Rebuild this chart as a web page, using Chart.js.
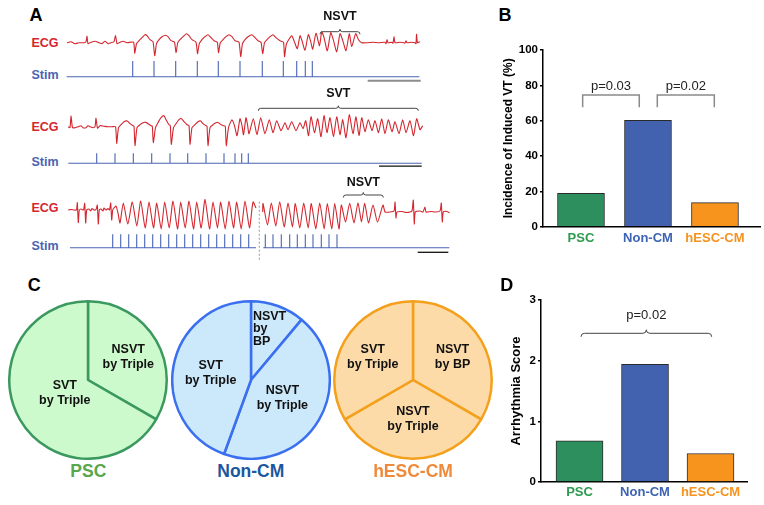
<!DOCTYPE html>
<html>
<head>
<meta charset="utf-8">
<script src="https://cdn.jsdelivr.net/npm/chart.js@4.4.1/dist/chart.umd.min.js"></script>
<style>
  html, body { margin: 0; padding: 0; background: #fff; }
  #fig { position: relative; width: 764px; height: 505px; overflow: hidden; font-family: "Liberation Sans", Arial, sans-serif; }
  #fig canvas { position: absolute; }
  .lbl { position: absolute; font-weight: bold; white-space: nowrap; line-height: 1; transform: translate(-50%, -50%); }
</style>
</head>
<body>
<div id="fig"></div>
<script>
// ---- panel A: ECG traces, [time, offset] (time in samples from trace start)
const ecg1 = [
  [0,0],[4,1],[8,-1],[12,0],[17,0],[19,1],[20,6.5],[21,-1],[23,0],[28,1.5],[32,0],[35,-1],[38,1.5],[41,-1],[44,0],[47,1],[48.5,7],[50,-1],[52,0],[56,1.5],[60,0],[66.5,0.5],
  [67.7,-10.5],[69.5,-1],[72,2],[75,5],[78,8],[80,7],[83,3],[86,1],
  [87.7,-13],[89.5,-1],[92,3],[95,6],[98.5,7.5],[101,6],[104,2],[107.5,0.5],
  [109,-10],[110.8,0],[113,3],[116,6],[119.5,9],[122,7],[125,3],[129,0.5],
  [130.5,-11],[132.3,-1],[135,3],[138,6],[141,8],[144,5],[147,2],[150.3,0.5],
  [151.5,-10],[153.3,0],[156,3],[159,6],[162,8],[165,6],[168,2],[172,0.5],
  [173.7,-14],[175.5,-1],[178,3],[181,6],[185,8],[188,5],[191,2],[194,0.5],
  [195.7,-11],[197.5,0],[200,3],[203,6],[206,8],[209,5],[213,2],[216.5,0.5],
  [217.5,-14],[219.5,-1],[224.7,7],[227,2],[230.3,-6],[233,7],[235,2],[238,-7.5],[241.3,8],[243.5,2],[245.7,-6.5],[249,9.5],[252.5,-3],
  [254.7,11],[257,5],[260.3,-8],[263.7,10],[266,4],[269.7,-9],[273,9],[275.5,3],[279,-8],[282.3,9],[284.7,-4],[288.7,9],[291.5,3],[294.7,0],
  [300,0],[306,0.5],[312,0],[318,0.5],[319,-1],[320,3],[321,0],[325,0.5],[326,-0.5],[327,6],[328,0],[333,0.5],[337,0],[338,-0.5],[339,2],[340,0],[344,0.5],[348,0],[349,-1],[349.5,8.5],[350.5,0],[353,1]
];
const ecg2 = [
  [0,1],[2,0],[3,12],[4.5,0],[7,0],[10,1],[13,2],[15,0],[18,0],[20,2],[22,1],[25,0],[27,1],[28,9.5],[29.5,-0.5],[32,2],[36,1.5],[40,1],[44,1],[47.5,1],
  [48.7,-15.7],[50.5,0],[53,3],[56,6],[59.3,6.7],[62,4],[65,2],[66,1.5],
  [67,-18],[69,0],[72,3],[75,5],[77.7,5.3],[80,4],[83,2],[84.3,1.5],
  [85.3,-15],[87.5,0],[90,5],[93,10],[96,12],[98,8],[101,3],[102.3,2],
  [103.3,-16.7],[105.5,0],[108,4],[111,8],[113.3,9.3],[116,6],[119,3],[121,2],
  [122,-16.7],[124,0],[127,3],[130,6],[132.7,6.7],[135,4],[138,2],[139,1.5],
  [140,-18],[142,0],[145,3],[148,5],[150,5.3],[153,3],[156,2],[157.3,1.5],
  [158.3,-18],[160.5,0],[164,8],[166.5,2],[169,-8],[172,9],[174,2],[175.5,-7],[178,10],[179.5,3],[181,-6],
  [185.3,9],[189,-7],[192.7,10],[197,-6],[201.3,8],[205,-5],[208.7,7],[213,-3],[217,5],[220,-2],[223.7,6],[228,-3],[232,5],[235,-1],
  [237.7,7],[240.5,-8],[243,11],[246.5,-5],[249.7,9],[253,-9],[256,12],[259,-5],[262,10],[265.5,-9],[268.7,11],[272,-7],[274.7,8],[278,-10],
  [281.3,13],[285,-6],[288,11],[291,-8],[293.7,10],[297,-4],[300.3,8],[304,-3],[307,7],[310.5,-5],[313.7,9],[317,-6],[320.3,8],[324,-4],
  [327,6],[331,-6],[334.7,8],[338,-5],[342,7],[345.5,-8],[348.7,9],[352,-2],[354.7,2]
];
const ecg3a = [
  [0.3,0],[3,0.5],[6,0],[8.5,0],[9.3,7.3],[10.3,-12.7],[11.3,0],[13,1],[15.5,0],[16.7,6.7],[17.7,-13],[18.7,0],[21,1],[22.7,-1],[24,1.5],[26,0],[28,0.5],
  [29.3,5],[30.3,-14],[31.3,0],[33,1],[35,-1],[36,2],[38,0],[40,1.5],[41.5,0],[42.7,7],[43.7,-10],[44.7,0],[46,2],[48,4],[50,-3],[52,-13],
  [55.3,7],[59.8,-14],[64.3,8],[68.8,-16],[72.7,9],[77.2,-18],[81,8],[85.5,-18],[88.7,7],[93.2,-19],[96.7,8],[101.2,-18],[105,9],[109.5,-19],
  [112.7,8],[117.2,-18],[121,9],[125.5,-19],[128.7,8],[133.2,-18],[137,10.7],[141.5,-19],[145,8],[149.5,-18],[152.7,8],[157.2,-19],
  [161,9],[165.5,-18],[168.7,8],[173.2,-19],[177,9],[181.5,-18],[185,8],[188,2]
];
const ecg3b = [
  [194.7,-2],[195,6.5],[199.5,-15],[203.3,7],[207.8,-16],[211.7,8.3],[216.2,-17],[220,7],[224.5,-17],[227.3,6.5],[231.8,-18],[235.7,7],[240.2,-18],
  [243.3,6.5],[247.8,-19],[251.7,7],[256.2,-19],[259.3,6.5],[263.8,-19],[266.7,6.5],[271,-19],
  [273.3,5],[277.5,-12],[281.7,6.7],[286,-13],[290,7.3],[293.5,-12],[296.7,6.7],[300.5,-13],[305,5],[309.5,-12],[315,5],[317,-2],
  [322,-2],[326,-1],[327,8],[328,-8],[329,-2],[334,-1.5],[338,-2.5],[342,-2],[344,-1],[345.3,10],[346.3,-14],[347.3,-2],[352,-1],[355,-2],
  [357,3],[358,-2],[363,-1.5],[368,-2],[372,-1],[373.3,7],[374.3,-12],[375.3,-2],[379,-1.5],[381.7,-3]
];

// stimulus times and recording spans
const stim1 = [65.7, 87, 108.7, 130.3, 151.3, 173, 195.3, 216.3, 229.7, 238.3, 245.3];
const stim2 = [28.7, 47, 65.3, 83.7, 102, 119.7, 138, 156, 167, 173.7, 180.3];
const stim3 = [44.7, 52.7, 60.7, 68.7, 76.7, 84.7, 92.7, 100.7, 108.7, 116.7, 124.7, 132.7, 140.7, 148.7, 156.7, 164.7, 172.7, 180.7,
               197.3, 205, 213.3, 221.7, 229.3, 237.3, 245, 253.3, 261, 269];
const stimSpan1 = [[-0.3, 352.3]];
const stimSpan2 = [[0.3, 353.7]];
const stimSpan3 = [[2, 188], [195.3, 381.3]];

// episode windows and time scale bars
const episode1 = [253, 293];
const episode2 = [190.3, 350.3];
const episode3 = [275.3, 315.3];
const scaleBar1 = [300.7, 353.7];
const scaleBar2 = [311, 353.7];
const scaleBar3 = [349.7, 380.3];

// ---- panels B, C, D
const groups = ["PSC", "Non-CM", "hESC-CM"];
const incidenceVT = [18.9, 60.2, 13.6];
const arrhythmiaScore = [0.68, 1.94, 0.47];

const pscShares = [1, 2];
const nonCmShares = [1, 4, 4];
const hescShares = [1, 1, 1];
const pscSlices = [["NSVT", "by Triple"], ["SVT", "by Triple"]];
const nonCmSlices = [["NSVT", "by", "BP"], ["NSVT", "by Triple"], ["SVT", "by Triple"]];
const hescSlices = [["NSVT", "by BP"], ["NSVT", "by Triple"], ["SVT", "by Triple"]];

const FONT = '"Liberation Sans", Arial, sans-serif';
const ECG_RED = "#d3262f";
const STIM_BLUE = "#4a64b3";
const BAR_COLORS = ["#2e8f5e", "#4262b0", "#f7941e"];
const GROUP_TEXT = ["#2e9a4f", "#3d63b3", "#f6921e"];

Chart.defaults.font.family = FONT;
Chart.defaults.animation = false;
Chart.defaults.events = [];
Chart.defaults.plugins.legend.display = false;
Chart.defaults.plugins.tooltip.enabled = false;

const fig = document.getElementById("fig");

function makeCanvas(left, top, w, h) {
  const c = document.createElement("canvas");
  c.width = w; c.height = h;
  c.style.left = left + "px"; c.style.top = top + "px";
  c.style.width = w + "px"; c.style.height = h + "px";
  fig.appendChild(c);
  return c;
}

function label(str, cx, cy, size, color) {
  const d = document.createElement("div");
  d.className = "lbl";
  d.textContent = str;
  d.style.left = cx + "px";
  d.style.top = cy + "px";
  d.style.fontSize = size + "px";
  d.style.color = color;
  fig.appendChild(d);
}

function pts(pairs) {
  return pairs.map(([x, y]) => ({ x, y }));
}

function stimPoints(spans, stims) {
  const out = [];
  spans.forEach(([a, b], k) => {
    if (k > 0) out.push({ x: (spans[k - 1][1] + a) / 2, y: null });
    out.push({ x: a, y: 0 });
    stims.filter((s) => s > a && s < b).forEach((s) => {
      out.push({ x: s, y: 0 }, { x: s, y: 1 }, { x: s, y: 0 });
    });
    out.push({ x: b, y: 0 });
  });
  return out;
}

function drawBrace(ctx, x0, x1, y, h) {
  const m = (x0 + x1) / 2;
  ctx.beginPath();
  ctx.moveTo(x0, y + h);
  ctx.quadraticCurveTo(x0, y, x0 + h, y);
  ctx.lineTo(m - h, y);
  ctx.quadraticCurveTo(m, y, m, y - h);
  ctx.quadraticCurveTo(m, y, m + h, y);
  ctx.lineTo(x1 - h, y);
  ctx.quadraticCurveTo(x1, y, x1, y + h);
  ctx.stroke();
}

const traceMarks = {
  id: "traceMarks",
  afterDatasetsDraw(chart, args, o) {
    const { ctx, scales: { x, y } } = chart;
    ctx.save();
    ctx.strokeStyle = "#444";
    ctx.lineWidth = 1;
    const x0 = x.getPixelForValue(o.episode[0]);
    const x1 = x.getPixelForValue(o.episode[1]);
    drawBrace(ctx, x0, x1, y.getPixelForValue(o.braceLevel), 2.5);
    ctx.fillStyle = "#111";
    ctx.font = "bold 12.5px " + FONT;
    ctx.textAlign = "center";
    ctx.textBaseline = "middle";
    ctx.fillText(o.text, (x0 + x1) / 2, y.getPixelForValue(o.textLevel));

    ctx.strokeStyle = o.barColor;
    ctx.lineWidth = o.barWidth;
    const yb = y.getPixelForValue(o.barLevel);
    ctx.beginPath();
    ctx.moveTo(x.getPixelForValue(o.bar[0]), yb);
    ctx.lineTo(x.getPixelForValue(o.bar[1]), yb);
    ctx.stroke();

    if (o.divider) {
      const xd = x.getPixelForValue(o.divider[0]);
      ctx.strokeStyle = "#9a9a9a";
      ctx.lineWidth = 1;
      ctx.setLineDash([2, 2]);
      ctx.beginPath();
      ctx.moveTo(xd, y.getPixelForValue(o.divider[1]));
      ctx.lineTo(xd, y.getPixelForValue(o.divider[2]));
      ctx.stroke();
    }
    ctx.restore();
  },
};

function traceChart(t) {
  const cv = makeCanvas(60, t.top, 400, t.height);
  const H = t.height;
  new Chart(cv, {
    type: "line",
    data: {
      datasets: [
        { data: t.ecg, yAxisID: "y", borderColor: ECG_RED, borderWidth: 1.1, pointRadius: 0, tension: 0.2, spanGaps: false },
        { data: stimPoints(t.spans, t.stims), yAxisID: "ys", borderColor: STIM_BLUE, borderWidth: 1.1, pointRadius: 0, tension: 0, spanGaps: false },
      ],
    },
    options: {
      responsive: false,
      devicePixelRatio: 1,
      layout: { padding: 0 },
      scales: {
        x: { type: "linear", display: false, min: t.tMin, max: t.tMin + 400 },
        y: { display: false, min: t.base - t.top - H, max: t.base - t.top },
        ys: { display: false, min: (t.stimBase - t.top - H) / t.stimH, max: (t.stimBase - t.top) / t.stimH },
      },
      plugins: { traceMarks: t.marks },
    },
    plugins: [traceMarks],
  });
}

traceChart({
  top: 2, height: 84, tMin: -7, base: 42.7, stimBase: 76.7, stimH: 15.7,
  ecg: pts(ecg1), stims: stim1, spans: stimSpan1,
  marks: { episode: episode1, text: "NSVT", braceLevel: 11, textLevel: 25.7, bar: scaleBar1, barLevel: -38, barColor: "#8c8c8c", barWidth: 2 },
});
traceChart({
  top: 86, height: 86, tMin: -8, base: 127.7, stimBase: 163.3, stimH: 10,
  ecg: pts(ecg2), stims: stim2, spans: stimSpan2,
  marks: { episode: episode2, text: "SVT", braceLevel: 19.4, textLevel: 34.4, bar: scaleBar2, barLevel: -38.5, barColor: "#111", barWidth: 1.3 },
});
traceChart({
  top: 172, height: 94, tMin: -8, base: 210, stimBase: 247.7, stimH: 13.4,
  ecg: pts(ecg3a).concat([{ x: 191.3, y: null }], pts(ecg3b)), stims: stim3, spans: stimSpan3,
  marks: { episode: episode3, text: "NSVT", braceLevel: 15, textLevel: 27.7, bar: scaleBar3, barLevel: -42.3, barColor: "#111", barWidth: 1.3, divider: [191.3, 8.3, -50] },
});

[[42.7, 75], [126.7, 162.3], [208.3, 246]].forEach(([ye, ys]) => {
  label("ECG", 45, ye, 12.5, ECG_RED);
  label("Stim", 45, ys, 12.5, STIM_BLUE);
});

// ---- bar panels (B, D)
const sigMarks = {
  id: "sigMarks",
  afterDatasetsDraw(chart, args, o) {
    const { ctx, scales: { x, y } } = chart;
    ctx.save();
    o.items.forEach((m) => {
      const x0 = x.getPixelForValue(m.from);
      const x1 = x.getPixelForValue(m.to);
      const yt = y.getPixelForValue(m.level);
      if (m.kind === "bracket") {
        const yf = y.getPixelForValue(m.foot);
        ctx.strokeStyle = "#8a8a8a";
        ctx.lineWidth = 1.5;
        ctx.beginPath();
        ctx.moveTo(x0, yf);
        ctx.lineTo(x0, yt);
        ctx.lineTo(x1, yt);
        ctx.lineTo(x1, yf);
        ctx.stroke();
      } else {
        ctx.strokeStyle = "#444";
        ctx.lineWidth = 1;
        drawBrace(ctx, x0, x1, yt, 3.5);
      }
      ctx.fillStyle = "#222";
      ctx.font = "13px " + FONT;
      ctx.textAlign = "center";
      ctx.textBaseline = "middle";
      ctx.fillText(m.text, (x0 + x1) / 2, y.getPixelForValue(m.textLevel));
    });
    ctx.restore();
  },
};

function barPanel(cv, c) {
  new Chart(cv, {
    type: "bar",
    data: {
      datasets: [{
        data: c.values.map((v, i) => ({ x: i + 1, y: v })),
        backgroundColor: BAR_COLORS,
        borderColor: "#2a2a2a",
        borderWidth: 1,
        barThickness: 47,
      }],
    },
    options: {
      responsive: false,
      devicePixelRatio: 1,
      layout: { padding: c.padding },
      scales: {
        x: {
          type: "linear",
          offset: false,
          min: c.xMin,
          max: c.xMax,
          afterBuildTicks: (s) => { s.ticks = groups.map((g, i) => ({ value: i + 1 })); },
          afterFit: (s) => { s.height = c.xH; },
          grid: { display: false, drawTicks: false, tickLength: 0, offset: false },
          border: { color: "#000", width: 1.5 },
          ticks: {
            callback: (v, i) => groups[i],
            color: (ctx) => GROUP_TEXT[ctx.index],
            font: { weight: "bold", size: 13 },
            padding: c.xPad,
            maxRotation: 0,
            autoSkip: false,
          },
        },
        y: {
          min: 0,
          max: c.yMax,
          afterFit: (s) => { s.width = c.yW; },
          ticks: { stepSize: c.step, color: "#000", font: { weight: "bold", size: 11.5 }, padding: 2 },
          grid: { drawOnChartArea: false, drawTicks: true, tickLength: 3, color: "#000", lineWidth: 1.5 },
          border: { color: "#000", width: 1.5 },
          title: { display: true, text: c.title, color: "#000", font: { weight: "bold", size: c.titleSize }, padding: { top: c.titlePad, bottom: 0 } },
        },
      },
      plugins: { sigMarks: { items: c.marks } },
    },
    plugins: [sigMarks],
  });
}

barPanel(makeCanvas(470, 30, 294, 230), {
  values: incidenceVT, yMax: 100, step: 20,
  padding: { top: 20, right: 4, left: 0, bottom: 0 },
  xMin: 0.433, xMax: 3.672, xH: 33.3, xPad: 4, yW: 73,
  title: "Incidence of Induced VT (%)", titleSize: 12, titlePad: 31,
  marks: [
    { kind: "bracket", from: 1.025, to: 1.87, level: 74.5, foot: 67.6, text: "p=0.03", textLevel: 79.6 },
    { kind: "bracket", from: 2.139, to: 2.99, level: 74.5, foot: 67.6, text: "p=0.02", textLevel: 79.6 },
  ],
});

barPanel(makeCanvas(470, 290, 294, 215), {
  values: arrhythmiaScore, yMax: 3, step: 1,
  padding: { top: 10, right: 17, left: 0, bottom: 0 },
  xMin: 0.412, xMax: 3.557, xH: 23, xPad: 3, yW: 71,
  title: "Arrhythmia Score", titleSize: 13, titlePad: 39,
  marks: [
    { kind: "brace", from: 1.023, to: 3.018, level: 2.451, text: "p=0.02", textLevel: 2.753 },
  ],
});

// ---- pie panels (C)
const sliceText = {
  id: "sliceText",
  afterDatasetsDraw(chart, args, o) {
    const { ctx, chartArea: ca } = chart;
    const arcs = chart.getDatasetMeta(0).data;
    const cx0 = (ca.left + ca.right) / 2;
    const cy0 = (ca.top + ca.bottom) / 2;
    const R = arcs[0].outerRadius;
    const shares = chart.data.datasets[0].data;
    const total = shares.reduce((a, b) => a + b, 0);
    ctx.save();
    ctx.fillStyle = "#111";
    ctx.font = "bold 12.5px " + FONT;
    ctx.textBaseline = "middle";
    let cum = 0;
    shares.forEach((v, i) => {
      const a = -Math.PI / 2 + 2 * Math.PI * (cum + v / 2) / total;
      cum += v;
      const pl = o.place[i];
      const cx = cx0 + Math.cos(a) * pl.f * R;
      const cy = cy0 + Math.sin(a) * pl.f * R;
      const lines = o.names[i];
      const lh = pl.lh || 15;
      if (pl.align === "left") {
        const w = Math.max(...lines.map((s) => ctx.measureText(s).width));
        ctx.textAlign = "left";
        lines.forEach((s, k) => ctx.fillText(s, cx - w / 2, cy + (k - (lines.length - 1) / 2) * lh));
      } else {
        ctx.textAlign = "center";
        lines.forEach((s, k) => ctx.fillText(s, cx, cy + (k - (lines.length - 1) / 2) * lh));
      }
    });
    ctx.restore();
  },
};

function piePanel(cv, shares, names, fill, edge, place) {
  new Chart(cv, {
    type: "pie",
    data: {
      labels: names.map((n) => n.join(" ")),
      datasets: [{ data: shares, backgroundColor: fill, borderColor: edge, borderWidth: 2.5, hoverOffset: 0 }],
    },
    options: {
      responsive: false,
      devicePixelRatio: 1,
      layout: { padding: 0 },
      plugins: { sliceText: { names, place } },
    },
    plugins: [sliceText],
  });
}

piePanel(makeCanvas(8.3, 299.5, 160, 160), pscShares, pscSlices, "#cdfacd", "#3b9960",
  [{ f: 0.59 }, { f: 0.34 }]);
piePanel(makeCanvas(170.8, 299.5, 160, 160), nonCmShares, nonCmSlices, "#cce8fb", "#3a6ff0",
  [{ f: 0.69, align: "left", lh: 12.5 }, { f: 0.46 }, { f: 0.52 }]);
piePanel(makeCanvas(333, 299.5, 160, 160), hescShares, hescSlices, "#fcdba9", "#f4a01c",
  [{ f: 0.58 }, { f: 0.5 }, { f: 0.59 }]);

label("PSC", 88.3, 471.7, 17.5, "#5aa64d");
label("Non-CM", 250.8, 471.7, 17.5, "#1b579c");
label("hESC-CM", 413, 471.7, 17.5, "#ef8a3b");

// panel letters
label("A", 36, 15, 18, "#000");
label("B", 505, 15, 18, "#000");
label("C", 34.3, 285, 18, "#000");
label("D", 506.7, 285, 18, "#000");
</script>
</body>
</html>
